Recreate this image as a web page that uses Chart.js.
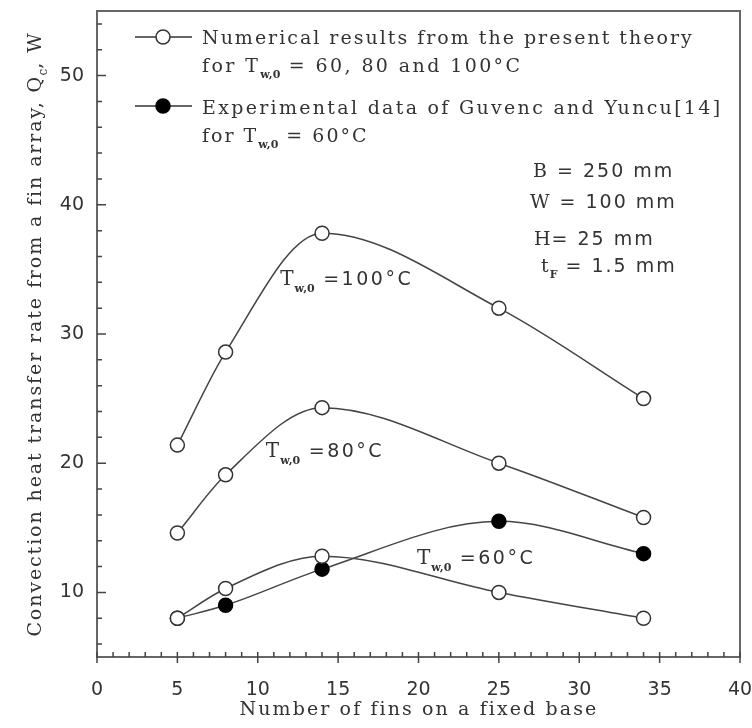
<!DOCTYPE html>
<html>
<head>
<meta charset="utf-8">
<script src="https://cdn.jsdelivr.net/npm/chart.js@4.4.0/dist/chart.umd.min.js"></script>
<style>
  html, body { margin: 0; padding: 0; background: #fff; }
  #wrap { width: 752px; height: 728px; }
</style>
</head>
<body>
<div id="wrap"><canvas id="finChart" width="752" height="728"></canvas></div>
<script>
"use strict";

// number of fins and convection heat transfer rate Qc (W)
const finCounts = [5, 8, 14, 25, 34];
const q100 = [21.4, 28.6, 37.8, 32.0, 25.0];
const q80 = [14.6, 19.1, 24.3, 20.0, 15.8];
const q60 = [8.0, 10.3, 12.8, 10.0, 8.0];
const qExp60 = [8.0, 9.0, 11.8, 15.5, 13.0];

const xTickLabels = [0, 5, 10, 15, 20, 25, 30, 35, 40];
const yTickLabels = [10, 20, 30, 40, 50];

const SERIF = '"DejaVu Serif"';
const SANS = '"DejaVu Sans"';
const INK = '#333';

function points(ys) {
  return finCounts.map((x, i) => ({ x: x, y: ys[i] }));
}

// draws a run of text pieces, each with own font / baseline shift
function drawRich(ctx, x, y, segs, align) {
  const widths = segs.map(s => {
    ctx.font = s.font;
    ctx.letterSpacing = '0px';
    return ctx.measureText(s.t).width + (s.ls || 0) * s.t.length;
  });
  const total = widths.reduce((a, b) => a + b, 0);
  let cx = align === 'center' ? x - total / 2 : x;
  segs.forEach((s, i) => {
    ctx.font = s.font;
    ctx.letterSpacing = (s.ls || 0) + 'px';
    ctx.fillText(s.t, cx, y + (s.dy || 0));
    cx += widths[i];
  });
  ctx.letterSpacing = '0px';
}

function tLabel(temp) {
  return [
    { t: 'T', font: '20px ' + SERIF, ls: 1 },
    { t: 'w,0', font: 'bold 11px ' + SERIF, dy: 7, ls: 0 },
    { t: ' =' + temp + '°C', font: '19px ' + SANS, ls: 2.5 }
  ];
}

const framePlugin = {
  id: 'frame',
  afterDraw(chart) {
    const { ctx, chartArea: a, scales: { x, y } } = chart;
    ctx.save();
    ctx.strokeStyle = '#666';
    ctx.lineWidth = 2;
    ctx.beginPath();
    ctx.moveTo(a.left, a.top);
    ctx.lineTo(a.right, a.top);
    ctx.lineTo(a.right, a.bottom);
    ctx.stroke();

    ctx.lineWidth = 1.5;
    ctx.strokeStyle = '#444';
    ctx.beginPath();
    x.ticks.forEach(t => {
      const px = x.getPixelForValue(t.value);
      const major = t.value % 5 === 0;
      ctx.moveTo(px, a.bottom - 5);
      ctx.lineTo(px, a.bottom + (major ? 6 : 0));
    });
    y.ticks.forEach(t => {
      const py = y.getPixelForValue(t.value);
      const major = t.value % 10 === 0;
      ctx.moveTo(a.left, py);
      ctx.lineTo(a.left + (major ? 9 : 5), py);
    });
    ctx.stroke();

    // legend
    ctx.textBaseline = 'alphabetic';
    ctx.textAlign = 'left';
    [[37, '#fff'], [106, '#000']].forEach(([ly, fill]) => {
      ctx.strokeStyle = '#333';
      ctx.lineWidth = 1.5;
      ctx.beginPath();
      ctx.moveTo(135, ly);
      ctx.lineTo(192, ly);
      ctx.stroke();
      ctx.beginPath();
      ctx.arc(163, ly, 7, 0, Math.PI * 2);
      ctx.fillStyle = fill;
      ctx.fill();
      ctx.strokeStyle = fill === '#000' ? '#000' : '#333';
      ctx.stroke();
    });
    ctx.fillStyle = INK;
    const lf = '19px ' + SERIF;
    drawRich(ctx, 202, 44, [{ t: 'Numerical results from the present theory', font: lf, ls: 2 }]);
    drawRich(ctx, 202, 72, [
      { t: 'for T', font: lf, ls: 2.4 },
      { t: 'w,0', font: 'bold 11px ' + SERIF, dy: 6 },
      { t: ' = 60, 80 and 100°C', font: lf, ls: 2.4 }
    ]);
    drawRich(ctx, 202, 114, [{ t: 'Experimental data of Guvenc and Yuncu[14]', font: lf, ls: 2.3 }]);
    drawRich(ctx, 202, 142, [
      { t: 'for T', font: lf, ls: 2 },
      { t: 'w,0', font: 'bold 11px ' + SERIF, dy: 6 },
      { t: ' = 60°C', font: lf, ls: 2 }
    ]);

    // geometry block
    drawRich(ctx, 533, 177, [{ t: 'B', font: '19px ' + SERIF, ls: 2 }, { t: ' = 250 mm', font: '19px ' + SANS, ls: 2 }]);
    drawRich(ctx, 530, 208, [{ t: 'W', font: '19px ' + SERIF, ls: 2 }, { t: ' = 100 mm', font: '19px ' + SANS, ls: 2 }]);
    drawRich(ctx, 534, 245, [{ t: 'H', font: '19px ' + SERIF, ls: 1 }, { t: '= 25 mm', font: '19px ' + SANS, ls: 2 }]);
    drawRich(ctx, 541, 272, [
      { t: 't', font: '19px ' + SERIF, ls: 1 },
      { t: 'F', font: 'bold 11px ' + SERIF, dy: 6 },
      { t: ' = 1.5 mm', font: '19px ' + SANS, ls: 2 }
    ]);

    // curve labels, anchored in data units
    drawRich(ctx, x.getPixelForValue(11.4), y.getPixelForValue(33.8), tLabel(100));
    drawRich(ctx, x.getPixelForValue(10.5), y.getPixelForValue(20.5), tLabel(80));
    drawRich(ctx, x.getPixelForValue(19.9), y.getPixelForValue(12.2), tLabel(60));

    // axis titles
    drawRich(ctx, (a.left + a.right) / 2, 715,
      [{ t: 'Number of fins on a fixed base', font: '19px ' + SERIF, ls: 2.1 }], 'center');
    ctx.translate(41, (a.top + a.bottom) / 2);
    ctx.rotate(-Math.PI / 2);
    drawRich(ctx, 0, 0, [
      { t: 'Convection heat transfer rate from a fin array, Q', font: '19px ' + SERIF, ls: 1.9 },
      { t: 'c', font: '12px ' + SERIF, dy: 6 },
      { t: ', W', font: '19px ' + SERIF, ls: 1.9 }
    ], 'center');
    ctx.restore();
  }
};

function series(label, ys, fill) {
  return {
    label: label,
    data: points(ys),
    borderColor: '#444',
    borderWidth: 1.5,
    pointRadius: 7,
    pointHoverRadius: 7,
    pointBorderWidth: 1.5,
    pointBorderColor: fill === '#000' ? '#000' : '#333',
    pointBackgroundColor: fill,
    cubicInterpolationMode: 'monotone',
    fill: false
  };
}

const ctx = document.getElementById('finChart').getContext('2d');
new Chart(ctx, {
  type: 'line',
  data: {
    datasets: [
      series('Tw,0 = 100°C', q100, '#fff'),
      series('Tw,0 = 80°C', q80, '#fff'),
      series('Tw,0 = 60°C', q60, '#fff'),
      series('Experimental, Tw,0 = 60°C', qExp60, '#000')
    ]
  },
  options: {
    responsive: false,
    animation: false,
    devicePixelRatio: 1,
    layout: { padding: { top: 11, right: 12, left: 0, bottom: 0 } },
    plugins: {
      legend: { display: false },
      tooltip: { enabled: false }
    },
    scales: {
      x: {
        type: 'linear',
        min: 0,
        max: 40,
        grid: { display: false, drawTicks: false },
        border: { display: true, color: '#666', width: 2 },
        ticks: {
          stepSize: 1,
          autoSkip: false,
          maxRotation: 0,
          padding: 22,
          color: INK,
          font: { family: 'DejaVu Sans', size: 19 },
          callback: v => xTickLabels.includes(v) ? String(v) : ''
        },
        afterFit: s => {
          s.height = 71;
          s.paddingLeft = 0;
          s.paddingRight = 0;
        }
      },
      y: {
        type: 'linear',
        min: 5,
        max: 55,
        grid: { display: false, drawTicks: false },
        border: { display: true, color: '#666', width: 2 },
        ticks: {
          autoSkip: false,
          padding: 13,
          color: INK,
          font: { family: 'DejaVu Sans', size: 19 },
          callback: v => yTickLabels.includes(v) ? String(v) : ''
        },
        afterBuildTicks: s => {
          const list = [];
          for (let v = 6; v <= 54; v += 2) list.push({ value: v });
          s.ticks = list;
        },
        afterFit: s => {
          s.width = 97;
          s.paddingTop = 0;
          s.paddingBottom = 0;
        }
      }
    }
  },
  plugins: [framePlugin]
});
</script>
</body>
</html>
